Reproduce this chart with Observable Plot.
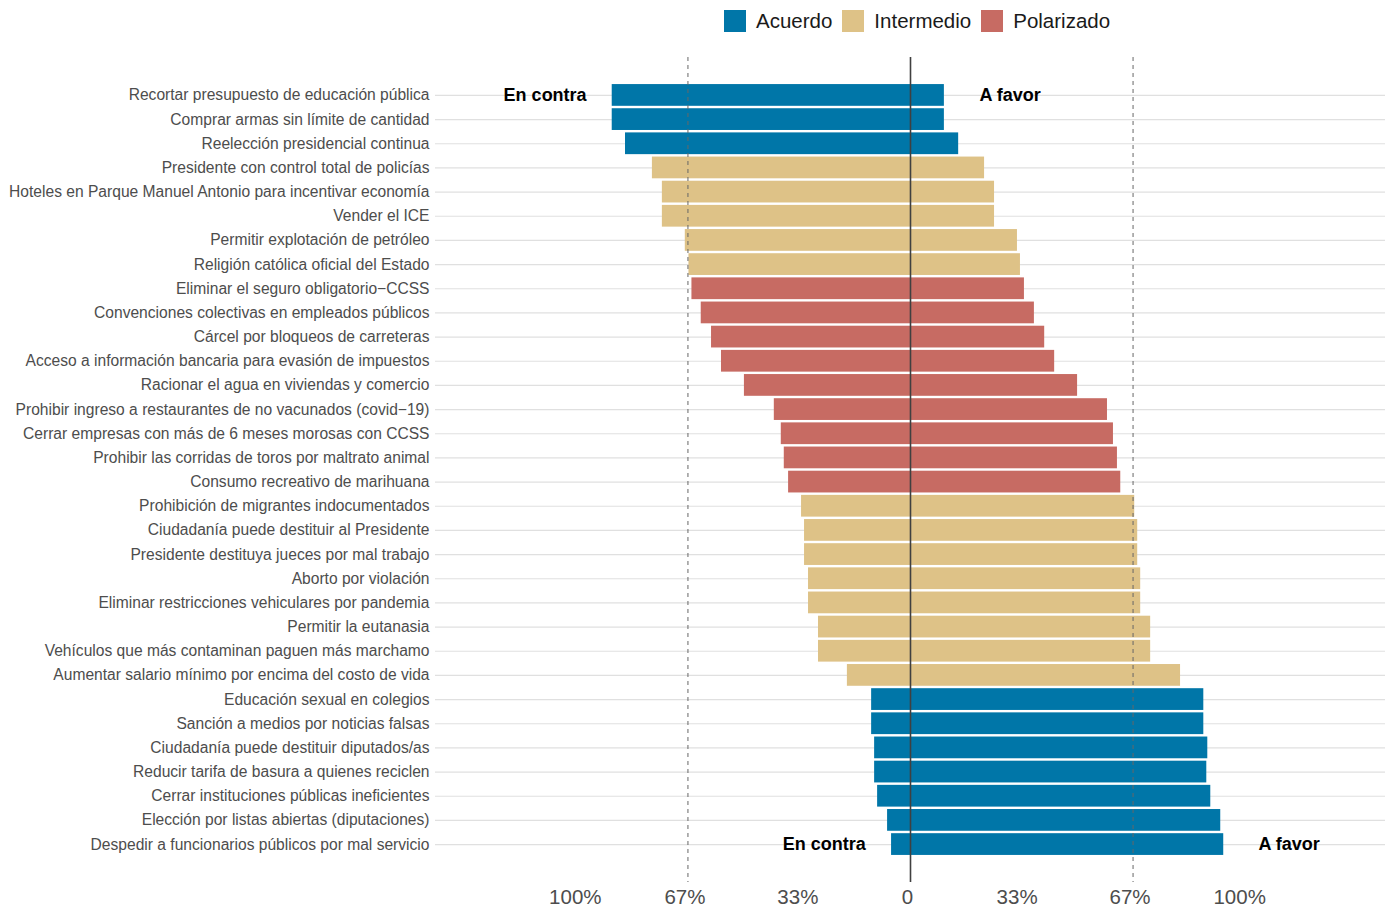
<!DOCTYPE html>
<html>
<head>
<meta charset="utf-8">
<script src="https://cdn.jsdelivr.net/npm/d3@7"></script>
<script src="https://cdn.jsdelivr.net/npm/@observablehq/plot@0.6"></script>
<style>
  body { margin: 0; background: #fff; font-family: "Liberation Sans", Arial, sans-serif; }
  #wrap { position: relative; width: 1390px; height: 907px; }
  #legend { position: absolute; left: 724px; top: 10px; display: flex; align-items: center; height: 22px; font-size: 20.5px; color: #1a1a1a; }
  #legend .key { width: 22px; height: 22px; margin-right: 10px; }
  #legend .lab { margin-right: 10px; }
  #chart { position: absolute; left: 0; top: 45px; }
  #chart svg { display: block; }
</style>
</head>
<body>
<div id="wrap">
  <div id="legend"></div>
  <div id="chart"></div>
</div>
<script>
const temas = [
  "Recortar presupuesto de educación pública",
  "Comprar armas sin límite de cantidad",
  "Reelección presidencial continua",
  "Presidente con control total de policías",
  "Hoteles en Parque Manuel Antonio para incentivar economía",
  "Vender el ICE",
  "Permitir explotación de petróleo",
  "Religión católica oficial del Estado",
  "Eliminar el seguro obligatorio−CCSS",
  "Convenciones colectivas en empleados públicos",
  "Cárcel por bloqueos de carreteras",
  "Acceso a información bancaria para evasión de impuestos",
  "Racionar el agua en viviendas y comercio",
  "Prohibir ingreso a restaurantes de no vacunados (covid−19)",
  "Cerrar empresas con más de 6 meses morosas con CCSS",
  "Prohibir las corridas de toros por maltrato animal",
  "Consumo recreativo de marihuana",
  "Prohibición de migrantes indocumentados",
  "Ciudadanía puede destituir al Presidente",
  "Presidente destituya jueces por mal trabajo",
  "Aborto por violación",
  "Eliminar restricciones vehiculares por pandemia",
  "Permitir la eutanasia",
  "Vehículos que más contaminan paguen más marchamo",
  "Aumentar salario mínimo por encima del costo de vida",
  "Educación sexual en colegios",
  "Sanción a medios por noticias falsas",
  "Ciudadanía puede destituir diputados/as",
  "Reducir tarifa de basura a quienes reciclen",
  "Cerrar instituciones públicas ineficientes",
  "Elección por listas abiertas (diputaciones)",
  "Despedir a funcionarios públicos por mal servicio"
];
const favor = [10.2, 10.2, 14.5, 22.3, 25.3, 25.3, 32.2, 33.1, 34.3, 37.3, 40.4, 43.4, 50.3, 59.3, 61.1, 62.3, 63.3,
               67.5, 68.4, 68.4, 69.3, 69.3, 72.3, 72.3, 81.3, 88.3, 88.3, 89.5, 89.2, 90.4, 93.4, 94.3];
const contra = [89.8, 89.8, 85.8, 77.7, 74.7, 74.7, 67.8, 66.7, 65.8, 63.0, 59.9, 56.9, 50.0, 41.0, 38.9, 38.0, 36.7,
                32.8, 31.9, 31.9, 30.7, 30.7, 27.7, 27.7, 19.0, 11.7, 11.7, 10.8, 10.8, 9.9, 6.9, 5.7];
const grupo = ["Acuerdo","Acuerdo","Acuerdo",
  "Intermedio","Intermedio","Intermedio","Intermedio","Intermedio",
  "Polarizado","Polarizado","Polarizado","Polarizado","Polarizado","Polarizado","Polarizado","Polarizado","Polarizado",
  "Intermedio","Intermedio","Intermedio","Intermedio","Intermedio","Intermedio","Intermedio","Intermedio",
  "Acuerdo","Acuerdo","Acuerdo","Acuerdo","Acuerdo","Acuerdo","Acuerdo"];
const categorias = ["Acuerdo", "Intermedio", "Polarizado"];
const colores = ["#0076A8", "#DEC287", "#C76B63"];
const xTicks = [-100, -67, -33, 0, 33, 67, 100];
const umbrales = [-67, 67];
const notaTexto = ["En contra", "A favor", "En contra", "A favor"];
const notaX = [-110, 30, -26, 114];
const notaFila = [0, 0, 31, 31];

const filas = temas.map((t, i) => ({tema: t, favor: favor[i], contra: contra[i], grupo: grupo[i]}));
const notas = notaTexto.map((t, i) => ({texto: t, x: notaX[i], tema: temas[notaFila[i]]}));

// Legend
const leg = document.getElementById("legend");
categorias.forEach((c, i) => {
  const k = document.createElement("div"); k.className = "key"; k.style.background = colores[i];
  const l = document.createElement("div"); l.className = "lab"; l.textContent = c;
  leg.appendChild(k); leg.appendChild(l);
});

const chart = Plot.plot({
  width: 1390,
  height: 862,
  marginLeft: 435,
  marginRight: 5,
  marginTop: 12,
  marginBottom: 25,
  style: {fontFamily: "'Liberation Sans', Arial, sans-serif", fontSize: "15.6px", background: "#fff"},
  x: {domain: [-143, 143]},
  y: {type: "band", domain: temas, paddingInner: 0.1, paddingOuter: 1.12, round: false},
  color: {domain: categorias, range: colores},
  marks: [
    Plot.gridY({stroke: "#e0e0e0", strokeOpacity: 1, strokeWidth: 1.2}),
    Plot.barX(filas, {y: "tema", x1: d => -d.contra, x2: 0, fill: "grupo"}),
    Plot.barX(filas, {y: "tema", x1: 0, x2: "favor", fill: "grupo"}),
    Plot.ruleX(umbrales, {stroke: "#666", strokeWidth: 1, strokeDasharray: "4,4"}),
    Plot.ruleX([0], {stroke: "#404040", strokeWidth: 1.6}),
    Plot.text(notas, {x: "x", y: "tema", text: "texto", fontWeight: "bold", fontSize: 18, fill: "#000"}),
    Plot.axisY({tickSize: 0, tickPadding: 6, fontSize: 15.6, color: "#4d4d4d", label: null}),
    Plot.axisX({ticks: xTicks, tickFormat: d => d === 0 ? "0" : Math.abs(d) + "%", tickSize: 0, tickPadding: 7,
                fontSize: 20.5, color: "#4d4d4d", label: null, dx: -3})
  ]
});
document.getElementById("chart").appendChild(chart);
</script>
</body>
</html>
